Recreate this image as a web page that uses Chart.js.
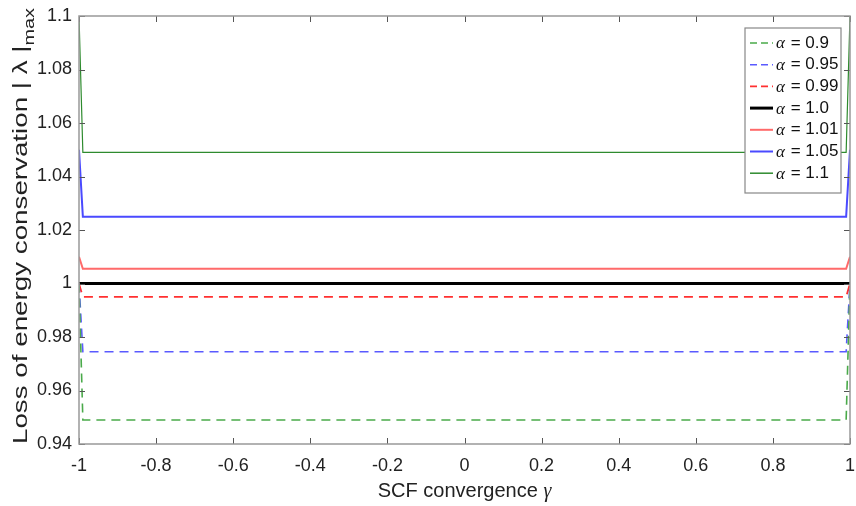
<!DOCTYPE html>
<html>
<head>
<meta charset="utf-8">
<script src="https://cdn.jsdelivr.net/npm/chart.js@4"></script>
<style>
  html, body { margin: 0; padding: 0; background: #fff; }
  canvas { display: block; }
</style>
</head>
<body>
<canvas id="myChart" width="856" height="506"></canvas>
<script>
// gamma samples: the two ends and the points just inside them
const gamma = [-1, -0.99, 0.99, 1];

const alphaLabels = ['0.9', '0.95', '0.99', '1.0', '1.01', '1.05', '1.1'];

// |lambda|max for each alpha
const lam090 = [1.0, 0.949, 0.949, 1.0];
const lam095 = [1.0, 0.9745, 0.9745, 1.0];
const lam099 = [1.0, 0.995, 0.995, 1.0];
const lam100 = [1.0, 1.0, 1.0, 1.0];
const lam101 = [1.01, 1.0055, 1.0055, 1.01];
const lam105 = [1.05, 1.025, 1.025, 1.05];
const lam110 = [1.1, 1.049, 1.049, 1.1];

const xTicks = [-1, -0.8, -0.6, -0.4, -0.2, 0, 0.2, 0.4, 0.6, 0.8, 1];
const yTicks = [0.94, 0.96, 0.98, 1, 1.02, 1.04, 1.06, 1.08, 1.1];

const tickFont = '"Liberation Sans Narrow", "Liberation Sans", Arial, sans-serif';

const styles = [
    { color: '#4aaa4a', width: 1.6, dash: [9, 6] },
    { color: '#5a5aff', width: 1.6, dash: [9, 6] },
    { color: '#ff3030', width: 1.8, dash: [9, 6] },
    { color: '#000000', width: 3, dash: [] },
    { color: '#ff6a6a', width: 2, dash: [] },
    { color: '#4a4aff', width: 2, dash: [] },
    { color: '#2e8b2e', width: 1.2, dash: [] },
];

const series = [lam090, lam095, lam099, lam100, lam101, lam105, lam110];

const datasets = series.map((vals, i) => ({
    label: 'α = ' + alphaLabels[i],
    data: gamma.map((g, j) => ({ x: g, y: vals[j] })),
    borderColor: styles[i].color,
    borderWidth: styles[i].width,
    borderDash: styles[i].dash,
    pointRadius: 0,
    tension: 0,
    fill: false,
}));

// box around the plot with inward tick marks on all four sides
const framePlugin = {
    id: 'frame',
    afterDatasetsDraw(chart) {
        const { ctx, chartArea: a, scales } = chart;
        ctx.save();
        ctx.strokeStyle = '#555';
        ctx.lineWidth = 1;
        const len = 6;
        xTicks.forEach(v => {
            const px = Math.round(scales.x.getPixelForValue(v)) + 0.5;
            ctx.beginPath();
            ctx.moveTo(px, a.bottom); ctx.lineTo(px, a.bottom - len);
            ctx.moveTo(px, a.top); ctx.lineTo(px, a.top + len);
            ctx.stroke();
        });
        yTicks.forEach(v => {
            const py = Math.round(scales.y.getPixelForValue(v)) + 0.5;
            ctx.beginPath();
            ctx.moveTo(a.left, py); ctx.lineTo(a.left + len, py);
            ctx.moveTo(a.right, py); ctx.lineTo(a.right - len, py);
            ctx.stroke();
        });
        ctx.strokeStyle = '#999';
        ctx.lineWidth = 1.5;
        ctx.strokeRect(a.left, a.top, a.right - a.left, a.bottom - a.top);
        ctx.restore();
    },
};

// legend in the upper right corner
const legendPlugin = {
    id: 'alphaLegend',
    afterDraw(chart) {
        const { ctx } = chart;
        const bx = 745, by = 28, bw = 96, bh = 165;
        ctx.save();
        ctx.fillStyle = '#fff';
        ctx.fillRect(bx, by, bw, bh);
        ctx.strokeStyle = '#888';
        ctx.lineWidth = 1.2;
        ctx.strokeRect(bx, by, bw, bh);
        ctx.textBaseline = 'middle';
        datasets.forEach((ds, i) => {
            const y = by + 15 + i * 21.7;
            ctx.beginPath();
            ctx.strokeStyle = ds.borderColor;
            ctx.lineWidth = Math.max(ds.borderWidth, 1.5);
            ctx.setLineDash(ds.borderDash.length ? [7, 4] : []);
            ctx.moveTo(750, y); ctx.lineTo(773, y);
            ctx.stroke();
            ctx.setLineDash([]);
            ctx.fillStyle = '#111';
            ctx.font = 'italic 17px "Liberation Serif", serif';
            ctx.fillText('α', 776, y + 1);
            ctx.font = '17px ' + tickFont;
            ctx.fillText(' = ' + alphaLabels[i], 786, y);
        });
        ctx.restore();
    },
};

// axis titles (y title carries a subscript and is stretched along its length)
const titlesPlugin = {
    id: 'axisTitles',
    afterDraw(chart) {
        const { ctx, chartArea: a } = chart;
        ctx.save();
        ctx.fillStyle = '#222';
        ctx.textBaseline = 'alphabetic';

        // x title
        const main = 'SCF convergence ';
        ctx.font = '20px ' + tickFont;
        const w1 = ctx.measureText(main).width;
        ctx.font = 'italic 20px "Liberation Serif", serif';
        const w2 = ctx.measureText('γ').width;
        const x0 = (a.left + a.right) / 2 - (w1 + w2) / 2;
        ctx.font = '20px ' + tickFont;
        ctx.fillText(main, x0, 497);
        ctx.font = 'italic 20px "Liberation Serif", serif';
        ctx.fillText('γ', x0 + w1, 497);

        // y title, rotated
        const yt = 'Loss of energy conservation | λ |';
        const mainFont = '21px "Liberation Sans", Arial, sans-serif';
        const subFont = '15px "Liberation Sans", Arial, sans-serif';
        ctx.font = mainFont;
        const wy = ctx.measureText(yt).width;
        ctx.font = subFont;
        const ws = ctx.measureText('max').width;
        const total = 436;
        const sx = total / (wy + ws);
        ctx.translate(27, 226);
        ctx.rotate(-Math.PI / 2);
        ctx.scale(sx, 1);
        const start = -(wy + ws) / 2;
        ctx.font = mainFont;
        ctx.fillText(yt, start, 0);
        ctx.font = subFont;
        ctx.fillText('max', start + wy, 7);
        ctx.restore();
    },
};

new Chart(document.getElementById('myChart').getContext('2d'), {
    type: 'line',
    data: { datasets },
    options: {
        responsive: false,
        animation: false,
        layout: { padding: { top: 16, right: 6, left: 0, bottom: 0 } },
        plugins: {
            legend: { display: false },
            tooltip: { enabled: false },
        },
        scales: {
            x: {
                type: 'linear',
                min: -1,
                max: 1,
                grid: { display: false, drawTicks: false },
                border: { display: false },
                afterFit: s => { s.height = 62; s.paddingLeft = 0; s.paddingRight = 0; },
                afterBuildTicks: s => { s.ticks = xTicks.map(v => ({ value: v })); },
                ticks: {
                    color: '#222',
                    padding: 11,
                    maxRotation: 0,
                    font: { family: tickFont, size: 18 },
                    callback: v => String(parseFloat(v.toFixed(1))),
                },
            },
            y: {
                min: 0.94,
                max: 1.1,
                grid: { display: false, drawTicks: false },
                border: { display: false },
                afterFit: s => { s.width = 79; s.paddingTop = 0; s.paddingBottom = 0; },
                afterBuildTicks: s => { s.ticks = yTicks.map(v => ({ value: v })); },
                ticks: {
                    color: '#222',
                    padding: 7,
                    font: { family: tickFont, size: 18 },
                    callback: v => String(parseFloat(v.toFixed(2))),
                },
            },
        },
    },
    plugins: [framePlugin, legendPlugin, titlesPlugin],
});
</script>
</body>
</html>
